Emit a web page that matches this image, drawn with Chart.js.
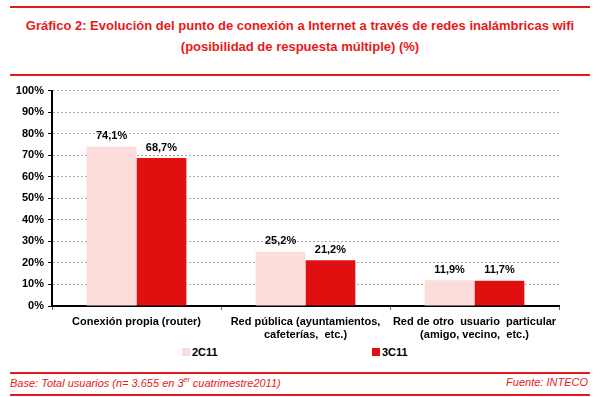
<!DOCTYPE html>
<html>
<head>
<meta charset="utf-8">
<script src="https://cdn.jsdelivr.net/npm/chart.js@4.4.1/dist/chart.umd.min.js"></script>
<style>
  body { margin: 0; background: #fff; font-family: "Liberation Sans", Arial, sans-serif; }
  #wrap { position: relative; width: 600px; height: 397px; overflow: hidden; }
  .rule { position: absolute; left: 10px; width: 580px; height: 0; border-top: 2px solid #e8191a; }
  .title { position: absolute; left: 0; width: 600px; text-align: center; color: #e8191a; font-weight: bold; font-size: 13px; }
  #chartBox { position: absolute; left: 0; top: 80px; width: 600px; height: 265px; }
  .leg { position: absolute; top: 346px; font-size: 11px; font-weight: bold; color: #000; }
  .leg i { display: inline-block; width: 8px; height: 8px; margin-right: 2px; vertical-align: -0px; }
  .foot { position: absolute; top: 376px; font-size: 11px; font-style: italic; color: #e8191a; }
  .foot sup { font-size: 7px; }
</style>
</head>
<body>
<div id="wrap">
  <div class="rule" style="top:6px"></div>
  <div class="title" style="top:18px">Gráfico 2: Evolución del punto de conexión a Internet a través de redes inalámbricas wifi</div>
  <div class="title" style="top:39px">(posibilidad de respuesta múltiple) (%)</div>
  <div class="rule" style="top:74px"></div>
  <div id="chartBox"><canvas id="c" width="600" height="265"></canvas></div>
  <div class="leg" style="left:182px"><i style="background:#fddcdc"></i>2C11</div>
  <div class="leg" style="left:372px"><i style="background:#e01010"></i>3C11</div>
  <div class="rule" style="top:372px"></div>
  <div class="foot" style="left:10px">Base: Total usuarios (n= 3.655 en 3<sup>er</sup> cuatrimestre2011)</div>
  <div class="foot" style="right:12px">Fuente: INTECO</div>
  <div class="rule" style="top:394px"></div>
</div>
<script>
const categories = [
  ["Conexión propia (router)"],
  ["Red pública (ayuntamientos,", "cafeterías,  etc.)"],
  ["Red de otro  usuario  particular", "(amigo, vecino,  etc.)"]
];
const series2C11 = [74.1, 25.2, 11.9];
const series3C11 = [68.7, 21.2, 11.7];
const yTicks = [0, 10, 20, 30, 40, 50, 60, 70, 80, 90, 100];

const fmt = v => v.toFixed(1).replace('.', ',') + '%';

const valueLabels = {
  id: 'valueLabels',
  afterDatasetsDraw(chart) {
    const ctx = chart.ctx;
    ctx.save();
    ctx.font = 'bold 11px "Liberation Sans", Arial, sans-serif';
    ctx.fillStyle = '#000';
    ctx.textAlign = 'center';
    ctx.textBaseline = 'bottom';
    chart.data.datasets.forEach((ds, i) => {
      chart.getDatasetMeta(i).data.forEach((bar, j) => {
        ctx.fillText(fmt(ds.data[j]), bar.x, bar.y - 5);
      });
    });
    ctx.restore();
  }
};

new Chart(document.getElementById('c'), {
  type: 'bar',
  data: {
    labels: categories,
    datasets: [
      { label: '2C11', data: series2C11, backgroundColor: '#fddcdc' },
      { label: '3C11', data: series3C11, backgroundColor: '#e01010' }
    ]
  },
  options: {
    responsive: false,
    animation: false,
    layout: { padding: { top: 7, right: 41, left: 0, bottom: 0 } },
    datasets: { bar: { categoryPercentage: 0.59, barPercentage: 1 } },
    plugins: { legend: { display: false }, tooltip: { enabled: false } },
    scales: {
      x: {
        grid: { offset: true, drawOnChartArea: false, drawTicks: true, tickLength: 4, color: '#666' },
        border: { display: true, color: '#000', width: 2 },
        ticks: { color: '#000', font: { size: 11, weight: 'bold', family: '"Liberation Sans", Arial' }, maxRotation: 0, padding: 5 },
        afterFit(scale) { scale.height = 39; }
      },
      y: {
        min: 0, max: 100,
        afterBuildTicks(scale) { scale.ticks = yTicks.map(v => ({ value: v })); },
        grid: { color: '#aaa', tickLength: 4, tickColor: '#000' },
        border: { display: true, color: '#000', width: 2, dash: [2, 2] },
        ticks: { color: '#000', padding: 4, callback: v => v + '%', font: { size: 11, weight: 'bold', family: '"Liberation Sans", Arial' } },
        afterFit(scale) { scale.width = 52; }
      }
    }
  },
  plugins: [valueLabels]
});
</script>
</body>
</html>
